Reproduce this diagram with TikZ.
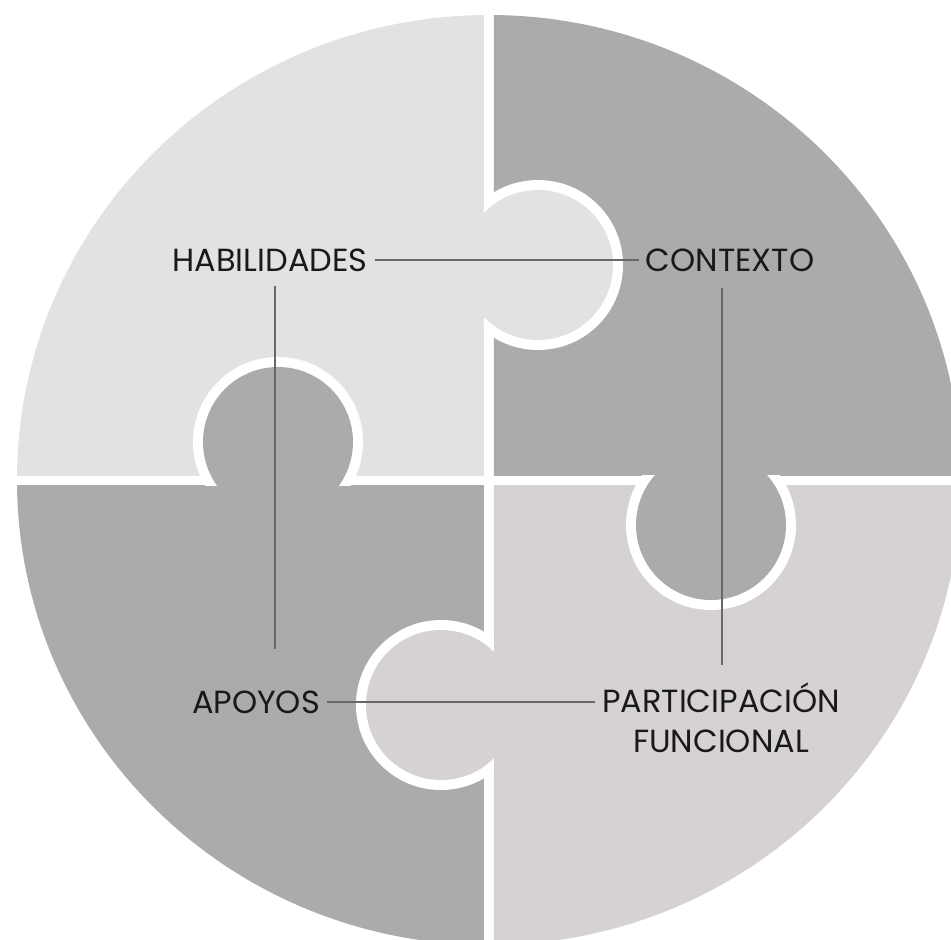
\documentclass[tikz,border=0pt]{standalone}
\usepackage{fontspec}
\setmainfont{Poppins}
\usepackage{tikz}
\usetikzlibrary{positioning}
\definecolor{piecelight}{HTML}{E2E2E4}
\definecolor{piecegray}{HTML}{ABABAD}
\definecolor{piecetaupe}{HTML}{D5D2D1}
\definecolor{linkgray}{HTML}{686868}

\begin{document}
\begin{tikzpicture}[x=1pt,y=1pt,
    piecetext/.style={font=\fontsize{32}{40}\selectfont,text=black!90,inner sep=7pt},
    link/.style={draw=linkgray,line width=2.6pt}]
  \useasboundingbox (-489,-460) rectangle (462,480);
  % four quarters of the disc
  \foreach \xa/\ya/\xb/\yb/\col in {-500/5/-5/500/piecelight,
      5/5/500/500/piecegray,-500/-500/-5/-5/piecegray,5/-500/500/-5/piecetaupe}{
    \begin{scope}
      \clip (\xa,\ya) rectangle (\xb,\yb);
      \fill[\col] (0,0) ellipse [x radius=472,y radius=465];
    \end{scope}
  }
  % tabs, each cut out of the neighbour with a white rim
  \foreach \tx/\ty/\col/\xa/\ya/\xb/\yb in {49/215/piecelight/-5/-500/500/500,
      -211/38/piecegray/-500/-5/500/500,222/-45/piecegray/-500/-500/500/5,
      -48/-225/piecetaupe/-500/-500/5/500}{
    \begin{scope}
      \clip (\xa,\ya) rectangle (\xb,\yb);
      \fill[white] (\tx,\ty) circle (85);
      \fill[\col] (\tx,\ty) circle (75);
    \end{scope}
  }
  \node[piecetext] (hab) at (-219,220) {HABILIDADES};
  \node[piecetext] (con) at (241,220) {CONTEXTO};
  \node[piecetext] (apo) at (-233,-222) {APOYOS};
  \node[piecetext,align=center,anchor=north] (par) at (232,-196)
    {PARTICIPACIÓN\\FUNCIONAL};
  \draw[link] (hab) -- (con);
  \draw[link] (apo) -- (apo -| par.west);
  \draw[link,shorten <=7pt,shorten >=34pt]
    ([xshift=5pt]hab.south) -- ([xshift=5pt]hab.south |- apo.north);
  \draw[link,shorten <=9pt,shorten >=11pt]
    ([xshift=-8pt]con.south) -- ([xshift=-8pt]con.south |- par.north);
\end{tikzpicture}
\end{document}
